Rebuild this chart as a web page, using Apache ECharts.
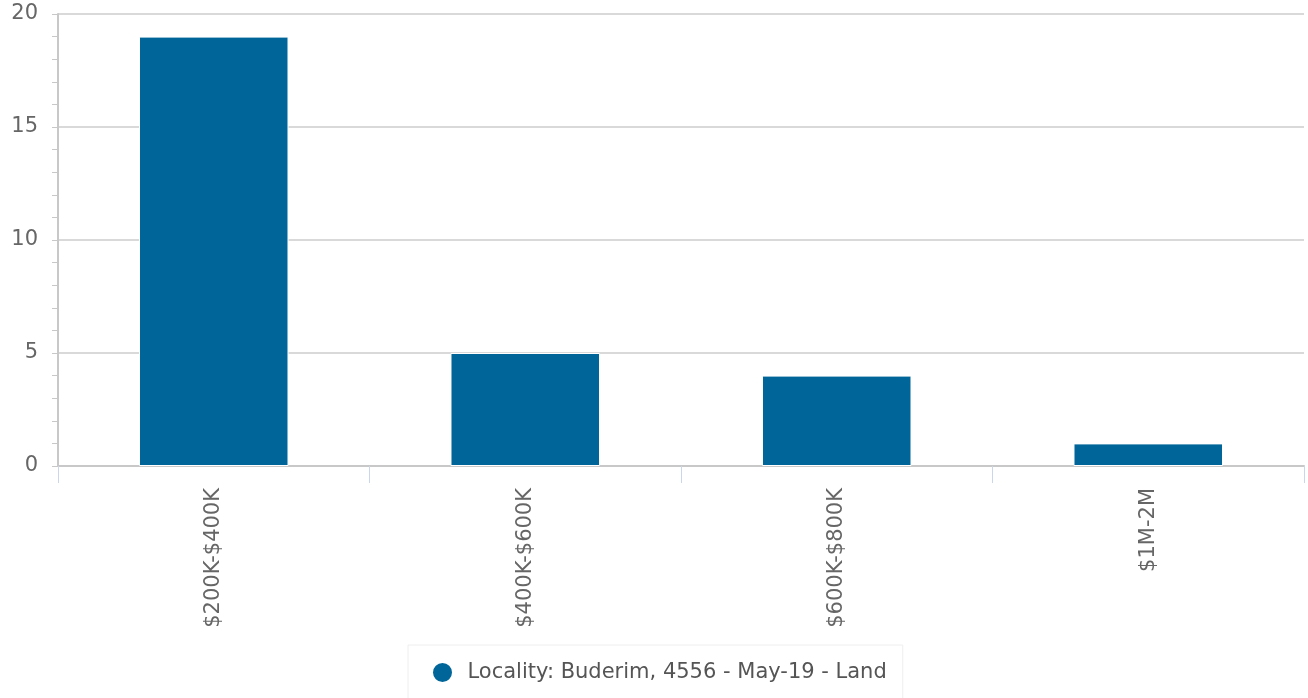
<!DOCTYPE html>
<html>
<head>
<meta charset="utf-8">
<script src="https://cdn.jsdelivr.net/npm/echarts@6/dist/echarts.min.js"></script>
<style>
html,body{margin:0;padding:0;background:#fff;}
#main{width:1308px;height:698px;}
</style>
</head>
<body>
<div id="main"></div>
<script>
const categories = ['$200K-$400K', '$400K-$600K', '$600K-$800K', '$1M-2M'];
const values = [19, 5, 4, 1];
const seriesName = 'Locality: Buderim, 4556 - May-19 - Land';
const yTicks = [0, 5, 10, 15, 20];

const FONT = '"DejaVu Sans", Verdana, sans-serif';
const chart = echarts.init(document.getElementById('main'), null, {renderer: 'canvas'});
chart.setOption({
  animation: false,
  textStyle: {fontFamily: FONT},
  grid: {left: 58, right: 4, top: 14, bottom: 232, containLabel: false},
  xAxis: {
    type: 'category',
    data: categories,
    axisLine: {show: true, lineStyle: {color: '#c8c8c8', width: 2}},
    axisTick: {show: true, alignWithLabel: false, length: 17, lineStyle: {color: '#ccd6eb', width: 1}},
    axisLabel: {rotate: 90, margin: 22, fontSize: 21, color: '#666666', fontFamily: FONT},
    splitLine: {show: false}
  },
  yAxis: {
    type: 'value',
    min: yTicks[0],
    max: yTicks[yTicks.length - 1],
    interval: 5,
    axisLine: {show: true, lineStyle: {color: '#c8c8c8', width: 2}},
    axisTick: {show: true, length: 6, lineStyle: {color: '#c8c8c8'}},
    minorTick: {show: true, splitNumber: 5, length: 6, lineStyle: {color: '#c8c8c8'}},
    axisLabel: {fontSize: 21, color: '#666666', margin: 20, fontFamily: FONT},
    splitLine: {show: true, lineStyle: {color: '#cccccc', width: 1.5}}
  },
  legend: {
    show: true,
    top: 645,
    left: 408,
    icon: 'circle',
    itemWidth: 40,
    itemHeight: 21,
    padding: [16, 16, 22, 23],
    borderColor: '#eeeeee',
    borderWidth: 1,
    backgroundColor: '#ffffff',
    textStyle: {fontSize: 21, color: '#555555', fontFamily: FONT},
    data: [seriesName]
  },
  series: [{
    name: seriesName,
    type: 'bar',
    data: values,
    barWidth: '48%',
    itemStyle: {color: '#006699', borderColor: '#ffffff', borderWidth: 1}
  }]
});
</script>
</body>
</html>
